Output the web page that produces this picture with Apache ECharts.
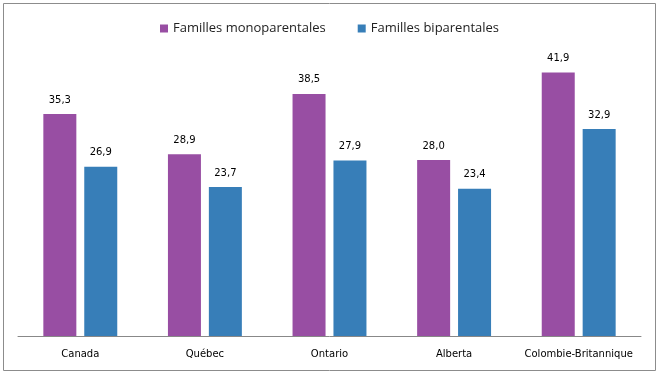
<!DOCTYPE html>
<html><head><meta charset="utf-8">
<script src="https://cdn.jsdelivr.net/npm/echarts@6/dist/echarts.min.js"></script>
<style>html,body{margin:0;padding:0;background:#fff}#c{width:659px;height:374px}</style>
</head><body><div id="c"></div>
<script>
const categories = ['Canada', 'Québec', 'Ontario', 'Alberta', 'Colombie-Britannique'];
const monoparentales = [35.3, 28.9, 38.5, 28.0, 41.9];
const biparentales = [26.9, 23.7, 27.9, 23.4, 32.9];
const seriesNames = ['Familles monoparentales', 'Familles biparentales'];

const chart = echarts.init(document.getElementById('c'), null, {renderer: 'canvas'});
const fmt = p => p.value.toFixed(1).replace('.', ',');
const lbl = {show: true, position: 'top', distance: 9, formatter: fmt, color: '#000', fontSize: 10, fontFamily: 'DejaVu Sans'};
chart.setOption({
  animation: false,
  graphic: [{type: 'rect', shape: {x: 3.5, y: 3.5, width: 652, height: 367}, style: {fill: 'none', stroke: '#8c8c8c', lineWidth: 1}, silent: true}],
  legend: {
    top: 17, left: 'center', itemWidth: 8, itemHeight: 8, itemGap: 32,
    icon: 'rect',
    textStyle: {fontFamily: 'Open Sans', fontSize: 13, color: '#222'},
    data: seriesNames
  },
  grid: {left: 18, right: 18, top: 53, bottom: 38, containLabel: false},
  xAxis: {
    type: 'category', data: categories,
    axisLine: {lineStyle: {color: '#888'}}, axisTick: {show: false},
    axisLabel: {interval: 0, color: '#000', fontSize: 10, fontFamily: 'DejaVu Sans', margin: 13}
  },
  yAxis: {type: 'value', min: 0, max: 45, show: false, splitLine: {show: false}},
  series: [
    {name: seriesNames[0], type: 'bar', data: monoparentales, barWidth: 33, barGap: '24%', itemStyle: {color: '#984EA3'}, label: lbl},
    {name: seriesNames[1], type: 'bar', data: biparentales, barWidth: 33, barGap: '24%', itemStyle: {color: '#377EB8'}, label: lbl}
  ]
});
</script></body></html>
